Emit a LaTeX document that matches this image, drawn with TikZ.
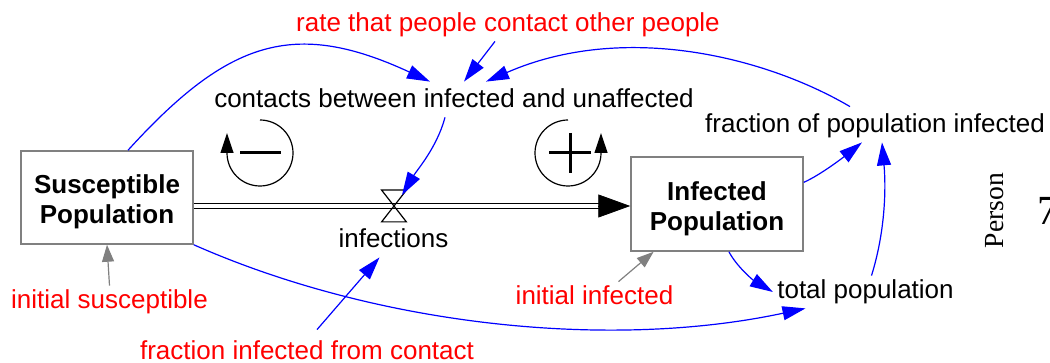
\documentclass[tikz,border=0pt]{standalone}
\usepackage{fontspec}
\setmainfont{Liberation Sans}
\newfontfamily\axisfont{Liberation Serif}
\usepackage{tikz}
\usetikzlibrary{arrows.meta}
\definecolor{linkblue}{RGB}{0,0,255}
\definecolor{constred}{RGB}{255,0,0}
\definecolor{edgegray}{RGB}{128,128,128}
\tikzset{
  stock/.style={draw=edgegray, line width=0.75pt, align=center, minimum width=86pt, minimum height=#1, inner sep=0pt, font=\fontsize{13}{15}\selectfont\bfseries},
  stock/.default={46.5pt},
  var/.style={text=#1, anchor=base, inner sep=2pt, text height=9.5pt, text depth=2.5pt, font=\fontsize{13}{15}\selectfont},
  var/.default={black},
  link/.style={-{Triangle[length=11.5pt,width=7pt]}, line width=0.6pt, draw=linkblue},
  initlink/.style={-{Triangle[length=8.5pt,width=6pt]}, line width=0.6pt, draw=edgegray},
  pipe/.style={draw=black, double=white, double distance=1.8pt, line width=0.7pt},
  flowtip/.style={-{Triangle[length=16pt,width=11.5pt]}, draw=black},
  valve/.style={minimum width=12pt, minimum height=15.5pt, inner sep=0pt},
  loopsym/.style={line width=0.6pt, -{Triangle[length=10pt,width=6.5pt]}},
  sign/.style={line width=1.5pt}
}

\begin{document}
\begin{tikzpicture}[x=0.5pt, y=0.5pt]
  \useasboundingbox (0,0) rectangle (1050,-363);
  % stocks and flow
  \node[stock] (sus) at (107,-197.5) {\rule{0pt}{14pt}Susceptible\\ Population};
  \node[stock=47pt] (inf) at (717,-204) {\rule{0pt}{14pt}Infected\\ Population};
  \node[valve] (valve) at (394,-206) {};
  \coordinate (flowend) at (inf.west |- valve);
  \draw[pipe] (sus.east |- valve) -- ([xshift=-15pt]flowend);
  \draw[flowtip] ([xshift=-16pt]flowend) -- (flowend);
  \draw[line width=0.6pt] (valve.north west) -- (valve.north east) -- (valve.south west) -- (valve.south east) -- cycle;
  % variables
  \node[var] (contacts) at (454,-108) {contacts between infected and unaffected};
  \node[var] (infections) at (393.5,-248) {infections};
  \node[var] (fracpop) at (875,-133) {fraction of population infected};
  \node[var] (totpop) at (865.5,-299) {total population};
  \node[var=constred] (rate) at (508,-32) {rate that people contact other people};
  \node[var=constred] (fic) at (307,-359) {fraction infected from contact};
  \node[var=constred] (initsus) at (109.5,-309) {initial susceptible};
  \node[var=constred] (initinf) at (594.5,-305) {initial infected};
  % loop markers
  \coordinate (balloop) at (260,-153);
  \coordinate (reinloop) at (568,-153);
  \draw[loopsym] ([shift={(90:16.5pt)}]balloop) arc[start angle=90, end angle=-180, radius=16.5pt] -- ++(0,10pt);
  \draw[sign] ([xshift=-10pt]balloop) -- ([xshift=10.5pt]balloop);
  \draw[loopsym] ([shift={(90:16.5pt)}]reinloop) arc[start angle=90, end angle=360, radius=16.5pt] -- ++(0,10pt);
  \draw[sign] ([xshift=-9.5pt]reinloop) -- ([xshift=11.5pt]reinloop);
  \draw[sign] ([shift={(1pt,10pt)}]reinloop) -- ([shift={(1pt,-10pt)}]reinloop);
  % links
  \draw[link] ([xshift=10.5pt]sus.north) .. controls +(100,110) and +(-136,63) .. ([xshift=-12pt,yshift=1.5pt]contacts.north);
  \draw[link] ([xshift=-6.5pt]rate.south) -- ([xshift=5pt,yshift=1.5pt]contacts.north);
  \draw[link] ([xshift=-12.5pt,yshift=1.5pt]fracpop.north) .. controls +(-85,50) and +(137.5,60) .. ([xshift=16pt,yshift=1.5pt]contacts.north);
  \draw[link] ([xshift=-4.5pt]contacts.south) .. controls +(-8,-30) and +(15,25) .. ([shift={(4pt,5.5pt)}]valve.center);
  \draw[link] ([xshift=5pt,yshift=3pt]fic.north) -- ([xshift=-7pt]infections.south);
  \draw[link] (sus.south east) .. controls +(183,-81) and +(-196,-42) .. ([xshift=-30pt]totpop.south);
  \draw[link] (inf.-76) .. controls +(8,-15) and +(-20,12) .. (totpop.west);
  \draw[link] (inf.14) .. controls +(18,8) and +(-15,-12) .. ([xshift=-6.5pt]fracpop.south);
  \draw[link] ([xshift=3pt]totpop.north) .. controls +(14,45) and +(4,-45) .. ([xshift=3.5pt]fracpop.south);
  \draw[initlink] (initsus.north) -- (sus.south);
  \draw[initlink] ([xshift=12pt]initinf.north) -- (inf.217);
  % axis fragment at the right edge
  \node[rotate=90, anchor=base, inner sep=0pt, font=\axisfont\fontsize{13.8}{16}\selectfont] (axislabel) at (1003,-210.5) {Person};
  \node[anchor=base, inner sep=0pt, font=\axisfont\fontsize{20.7}{24}\selectfont] (axistick) at (1048,-225) {7};
\end{tikzpicture}
\end{document}
